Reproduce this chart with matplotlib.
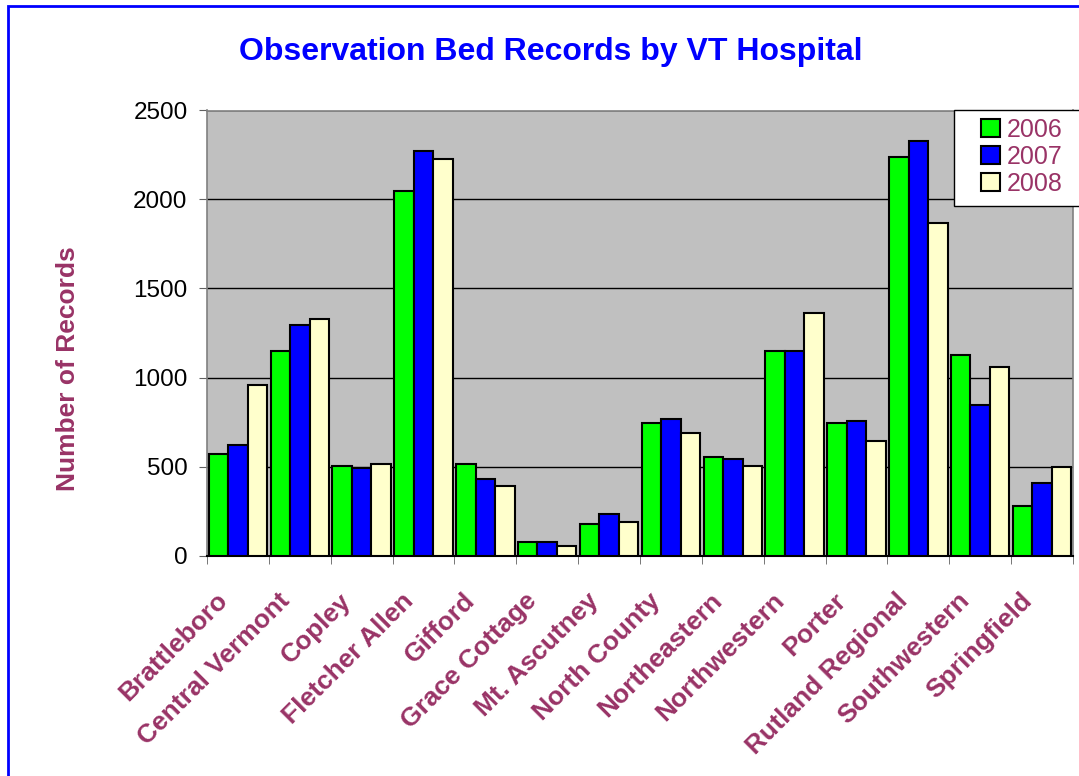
import numpy as np
import matplotlib.pyplot as plt
from matplotlib.patches import Rectangle
from matplotlib.transforms import ScaledTranslation

plt.rcParams['font.family'] = ['Liberation Sans', 'DejaVu Sans']

hospitals = ['Brattleboro', 'Central Vermont', 'Copley', 'Fletcher Allen', 'Gifford',
             'Grace Cottage', 'Mt. Ascutney', 'North County', 'Northeastern', 'Northwestern',
             'Porter', 'Rutland Regional', 'Southwestern', 'Springfield']
years = ['2006', '2007', '2008']
rec_2006 = [573, 1149, 504, 2050, 515, 75, 178, 742, 551, 1149, 742, 2241, 1125, 279]
rec_2007 = [619, 1293, 493, 2275, 427, 75, 234, 765, 540, 1149, 753, 2331, 843, 405]
rec_2008 = [956, 1329, 515, 2230, 391, 54, 189, 686, 504, 1364, 641, 1869, 1057, 495]

plum = '#993366'
colors = ['#00FF00', '#0000FF', '#FFFFCC']

fig = plt.figure(figsize=(10.79, 7.76), dpi=100)
ax = fig.add_axes([207/1079, 1 - 555.5/776, (1073-207)/1079, (555.5-110.5)/776])

x = np.arange(len(hospitals))
w = 0.315
for i, (vals, yr) in enumerate(zip([rec_2006, rec_2007, rec_2008], years)):
    ax.bar(x + (i - 1) * w, vals, width=w, color=colors[i], edgecolor='black',
           linewidth=1.5, label=yr, zorder=3)

ax.set_facecolor('#C0C0C0')
ax.set_xlim(-0.5, len(hospitals) - 0.5)
ax.set_ylim(0, 2500)
ax.set_yticks(range(0, 2501, 500))
ax.yaxis.grid(True, color='black', linewidth=1, zorder=1)
ax.set_axisbelow(True)

for s in ['top', 'right', 'left']:
    ax.spines[s].set_color('#808080')
    ax.spines[s].set_linewidth(1.2)
ax.spines['bottom'].set_color('black')
ax.spines['bottom'].set_linewidth(1.5)

ax.tick_params(axis='y', labelsize=17.5, length=6, color='#606060', pad=8)
ax.set_xticks(x)
ax.set_xticks(np.arange(-0.5, len(hospitals)), minor=True)
ax.tick_params(axis='x', which='major', length=0, pad=14)
ax.tick_params(axis='x', which='minor', length=6, color='#606060')
ax.set_xticklabels(hospitals, rotation=45, ha='right', va='center', rotation_mode='anchor',
                   fontsize=19, fontweight='bold', color=plum)
# excel puts the label ends a bit lower and left of the category centre
shift = ScaledTranslation(-14/100, -22/100, fig.dpi_scale_trans)
for lab in ax.get_xticklabels():
    lab.set_transform(lab.get_transform() + shift)

fig.text(551/1079, 1 - 52/776, 'Observation Bed Records by VT Hospital', ha='center',
         va='center', fontsize=23, fontweight='bold', color='#0000FF')
fig.text(68/1079, 1 - 369/776, 'Number of Records', rotation=90, ha='center', va='center',
         fontsize=19, fontweight='bold', color=plum)

# legend box drawn by hand so it can run off the right edge like the original
fig.patches.append(Rectangle((954/1079, 1 - 206/776), 140/1079, 96/776,
                             transform=fig.transFigure, facecolor='white',
                             edgecolor='black', linewidth=1, zorder=5))
leg = fig.legend(loc='upper left', bbox_to_anchor=(976/1079, 1 - 113/776),
                 bbox_transform=fig.transFigure, fontsize=18, frameon=False,
                 handlelength=0.75, handleheight=0.75, handletextpad=0.3,
                 labelspacing=0.12, borderpad=0.2, borderaxespad=0, labelcolor=plum)
leg.set_zorder(6)

fig.patches.append(Rectangle((8/1079, -0.05), 1.1, 1 - 6/776 + 0.05, transform=fig.transFigure,
                             fill=False, edgecolor='#0000FF', linewidth=2))

fig.savefig('out.png', dpi=100)
